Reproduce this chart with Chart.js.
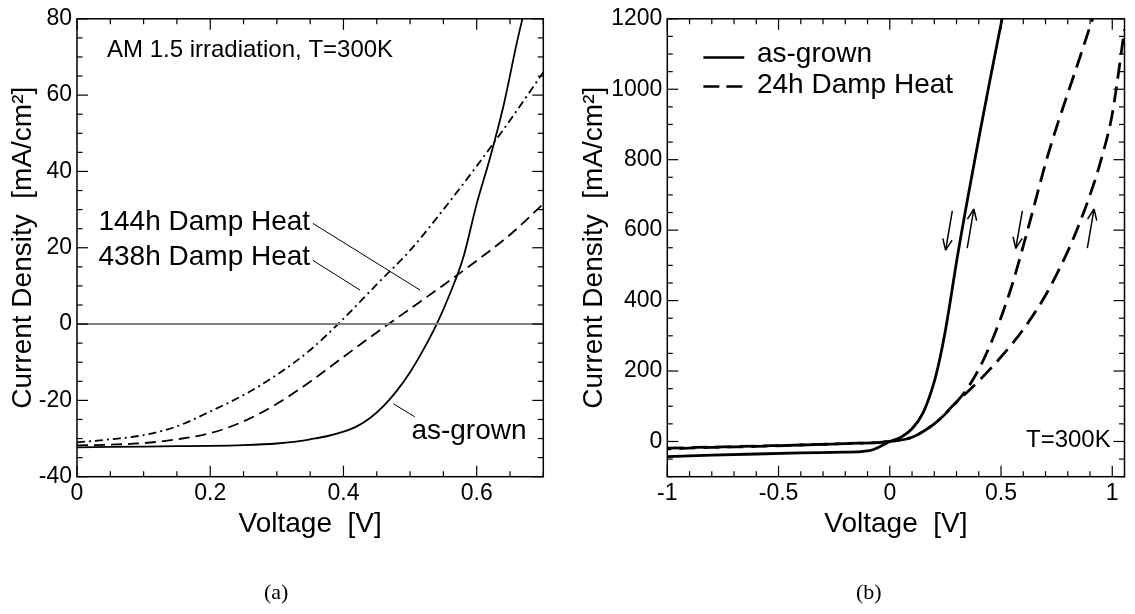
<!DOCTYPE html>
<html lang="en">
<head>
<meta charset="UTF-8">
<title>J-V curves | AM 1.5 and dark</title>
<script src="https://cdn.jsdelivr.net/npm/chart.js@4"></script>
<style>
    body { margin: 0; background: #fff; width: 1135px; height: 614px; position: relative; overflow: hidden; }
    canvas { position: absolute; top: 0; }
    #chartA { left: 0; }
    #chartB { left: 567px; }
    .cap { position: absolute; top: 579px; font-family: "Liberation Serif", "Times New Roman", serif; font-size: 22px; color: #000; }
</style>
</head>
<body>
<canvas id="chartA" width="567" height="614"></canvas>
<canvas id="chartB" width="568" height="614"></canvas>
<div class="cap" style="left:264px">(a)</div>
<div class="cap" style="left:856px">(b)</div>

<script>
    // ---- panel (a): illuminated J-V, AM 1.5, 300 K ----
    const vGrownA = [0, 0.05, 0.1, 0.15, 0.2, 0.25, 0.3, 0.325, 0.35, 0.375, 0.4, 0.42, 0.44, 0.46, 0.48, 0.5, 0.52, 0.54, 0.56, 0.58, 0.6, 0.62, 0.64, 0.66, 0.67];
    const jGrownA = [-32.3, -32.2, -32.1, -32.0, -31.9, -31.7, -31.3, -30.9, -30.2, -29.4, -28.2, -26.8, -24.6, -21.5, -17.5, -12.6, -6.7, 0, 8, 17.5, 31.5, 43.5, 57, 73.5, 81];

    const vDamp = [0, 0.05, 0.1, 0.15, 0.2, 0.25, 0.3, 0.35, 0.4, 0.45, 0.5, 0.55, 0.6, 0.65, 0.7];
    const j144h = [-31.8, -31.6, -31.2, -30.2, -28.6, -25.5, -20.9, -15.1, -8.6, -2.2, 4.0, 10.2, 16.6, 23.4, 31.5];
    const j438h = [-31.0, -30.2, -29.1, -26.8, -22.9, -18.6, -13.3, -6.8, 1.4, 10.4, 19.3, 30.0, 41.4, 53.4, 66.0];

    const ticksXA = [0, 0.2, 0.4, 0.6];
    const ticksYA = [-40, -20, 0, 20, 40, 60, 80];

    // ---- panel (b): dark J-V, both sweep directions ----
    const vGrownB = [-1, -0.8, -0.6, -0.4, -0.2, -0.13, -0.1, -0.07, -0.03, 0, 0.05, 0.1, 0.15, 0.2, 0.225, 0.25, 0.275, 0.3, 0.35, 0.4, 0.45, 0.5, 0.51];
    const jGrownB = [-43, -39, -35.5, -32.5, -30.5, -29, -27, -22, -10, 0, 12, 36, 82, 170, 235, 315, 410, 510, 690, 860, 1025, 1185, 1217];

    const vDhUp = [-1, -0.8, -0.6, -0.4, -0.2, 0, 0.1, 0.2, 0.3, 0.4, 0.5, 0.6, 0.7, 0.8, 0.85, 0.9, 0.95, 1.0, 1.055];
    const jDhUp = [-19, -16, -13, -10, -6, 0, 12, 50, 112, 172, 240, 318, 415, 540, 615, 700, 800, 930, 1170];

    const vDhDown = [-1, -0.8, -0.6, -0.4, -0.2, 0, 0.1, 0.2, 0.3, 0.35, 0.4, 0.45, 0.5, 0.55, 0.6, 0.65, 0.7, 0.75, 0.8, 0.85, 0.9, 0.92];
    const jDhDown = [-21, -17, -14, -10, -6, 0, 12, 50, 112, 152, 205, 272, 352, 445, 555, 672, 790, 893, 988, 1082, 1178, 1216];

    const ticksXB = [-1, -0.5, 0, 0.5, 1];
    const ticksYB = [0, 200, 400, 600, 800, 1000, 1200];

    Chart.defaults.font.family = '"Liberation Sans", Arial, Helvetica, sans-serif';
    Chart.defaults.color = '#000';

    const FONT = '"Liberation Sans", Arial, Helvetica, sans-serif';

    function pts(xs, ys) {
        return xs.map((v, i) => ({ x: v, y: ys[i] }));
    }

    // frame, inward ticks on all sides, text and arrow annotations
    const deco = {
        id: 'deco',
        afterDatasetsDraw(chart, args, o) {
            const { ctx, chartArea: a, scales: { x, y } } = chart;
            const px = v => x.getPixelForValue(v);
            const py = v => y.getPixelForValue(v);
            const seg = (x1, y1, x2, y2) => { ctx.beginPath(); ctx.moveTo(x1, y1); ctx.lineTo(x2, y2); ctx.stroke(); };
            const isMajor = (v, step) => Math.abs(v / step - Math.round(v / step)) < 1e-6;

            ctx.save();
            ctx.strokeStyle = '#000';
            ctx.lineWidth = 1.5;
            ctx.strokeRect(a.left, a.top, a.width, a.height);

            ctx.lineWidth = 1.2;
            let n = Math.floor((x.max - x.min) / o.xMinor + 1e-6);
            for (let i = 0; i <= n; i++) {
                const v = x.min + i * o.xMinor;
                const len = isMajor(v, o.xMajor) ? 11 : 5.5;
                const p = px(v);
                seg(p, a.bottom, p, a.bottom - len);
                seg(p, a.top, p, a.top + len);
            }
            n = Math.floor((y.max - y.min) / o.yMinor + 1e-6);
            for (let i = 0; i <= n; i++) {
                const v = y.min + i * o.yMinor;
                const len = isMajor(v, o.yMajor) ? 11 : 5.5;
                const p = py(v);
                seg(a.left, p, a.left + len, p);
                seg(a.right, p, a.right - len, p);
            }

            // leader lines
            ctx.lineWidth = 1;
            (o.leaders || []).forEach(l => seg(px(l[0]), py(l[1]), px(l[2]), py(l[3])));

            // sweep direction arrows
            ctx.lineWidth = 1.5;
            (o.arrows || []).forEach(l => {
                const x1 = px(l[0]), y1 = py(l[1]), x2 = px(l[2]), y2 = py(l[3]);
                seg(x1, y1, x2, y2);
                const ang = Math.atan2(y2 - y1, x2 - x1);
                [0.4, -0.4].forEach(d => seg(x2, y2, x2 - 12 * Math.cos(ang + d), y2 - 12 * Math.sin(ang + d)));
            });

            // legend samples
            (o.legend || []).forEach(l => {
                ctx.lineWidth = l.width;
                ctx.setLineDash(l.dash);
                seg(px(l.x1), py(l.y), px(l.x2), py(l.y));
                ctx.setLineDash([]);
                ctx.font = `${l.size}px ${FONT}`;
                ctx.fillStyle = '#000';
                ctx.textAlign = 'left';
                ctx.textBaseline = 'middle';
                ctx.fillText(l.text, px(l.tx), py(l.ty));
            });

            // free texts
            (o.texts || []).forEach(t => {
                ctx.font = `${t.size}px ${FONT}`;
                ctx.fillStyle = '#000';
                ctx.textAlign = t.align;
                ctx.textBaseline = 'middle';
                ctx.fillText(t.text, px(t.x), py(t.y));
            });
            ctx.restore();
        }
    };

    function axisX(min, max, ticks, fixedH) {
        return {
            type: 'linear', min: min, max: max,
            grid: { display: false, drawTicks: false, tickLength: 0 }, border: { display: false },
            afterBuildTicks: s => { s.ticks = ticks.map(v => ({ value: v })); },
            afterFit: s => { s.height = fixedH; },
            ticks: { font: { size: 23 }, padding: 3, maxRotation: 0, callback: v => String(v) },
            title: { display: true, text: 'Voltage  [V]', font: { size: 28 }, padding: { top: 0, bottom: 0 } }
        };
    }

    function axisY(min, max, ticks, fixedW, titlePad) {
        return {
            type: 'linear', min: min, max: max,
            grid: { display: false, drawTicks: false, tickLength: 0 }, border: { display: false },
            afterBuildTicks: s => { s.ticks = ticks.map(v => ({ value: v })); },
            afterFit: s => { s.width = fixedW; },
            ticks: { font: { size: 23 }, padding: 5, callback: v => String(v) },
            title: { display: true, text: 'Current Density  [mA/cm²]', font: { size: 28 }, padding: { top: titlePad, bottom: 0 } }
        };
    }

    const lineBase = { pointRadius: 0, fill: false, cubicInterpolationMode: 'monotone', borderColor: '#000' };

    new Chart(document.getElementById('chartA'), {
        type: 'line',
        data: {
            datasets: [
                { ...lineBase, label: 'zero', data: pts([0, 0.7], [0, 0]), borderColor: '#808080', borderWidth: 2 },
                { ...lineBase, label: 'as-grown', data: pts(vGrownA, jGrownA), borderWidth: 1.8 },
                { ...lineBase, label: '144h Damp Heat', data: pts(vDamp, j144h), borderWidth: 1.8, borderDash: [11, 6] },
                { ...lineBase, label: '438h Damp Heat', data: pts(vDamp, j438h), borderWidth: 1.8, borderDash: [8, 4, 2, 4] }
            ]
        },
        options: {
            responsive: false,
            animation: false,
            layout: { padding: { top: 11, right: 23.7, bottom: 72.8, left: 0 } },
            scales: {
                x: axisX(0, 0.7, ticksXA, 64.5),
                y: axisY(-40, 80, ticksYA, 77, 6.2)
            },
            plugins: {
                legend: { display: false },
                tooltip: { enabled: false },
                deco: {
                    xMinor: 0.05, xMajor: 0.2, yMinor: 5, yMajor: 20,
                    leaders: [
                        [0.354, 26.4, 0.515, 8.9],
                        [0.354, 16.7, 0.425, 8.9],
                        [0.475, -20.9, 0.507, -24.3]
                    ],
                    texts: [
                        { text: 'AM 1.5 irradiation, T=300K', x: 0.045, y: 71.7, size: 24, align: 'left' },
                        { text: '144h Damp Heat', x: 0.35, y: 26.7, size: 28, align: 'right' },
                        { text: '438h Damp Heat', x: 0.35, y: 17.6, size: 28, align: 'right' },
                        { text: 'as-grown', x: 0.502, y: -28.2, size: 28, align: 'left' }
                    ]
                }
            }
        },
        plugins: [deco]
    });

    new Chart(document.getElementById('chartB'), {
        type: 'line',
        data: {
            datasets: [
                { ...lineBase, label: 'as-grown', data: pts(vGrownB, jGrownB), borderWidth: 2.8 },
                { ...lineBase, label: '24h Damp Heat (up)', data: pts(vDhUp, jDhUp), borderWidth: 2.8, borderDash: [16, 8] },
                { ...lineBase, label: '24h Damp Heat (down)', data: pts(vDhDown, jDhDown), borderWidth: 2.8, borderDash: [16, 8], borderDashOffset: 12 }
            ]
        },
        options: {
            responsive: false,
            animation: false,
            layout: { padding: { top: 11, right: 10.5, bottom: 72.8, left: 0 } },
            scales: {
                x: axisX(-1, 1.055, ticksXB, 64.5),
                y: axisY(-100, 1200, ticksYB, 100.3, 10.7)
            },
            plugins: {
                legend: { display: false },
                tooltip: { enabled: false },
                deco: {
                    xMinor: 0.1, xMajor: 0.5, yMinor: 50, yMajor: 200,
                    arrows: [
                        [0.281, 655, 0.251, 543],
                        [0.348, 549, 0.378, 660],
                        [0.596, 655, 0.566, 548],
                        [0.888, 549, 0.918, 660]
                    ],
                    legend: [
                        { text: 'as-grown', x1: -0.838, x2: -0.654, y: 1090, tx: -0.597, ty: 1098, width: 2.5, dash: [], size: 28 },
                        { text: '24h Damp Heat', x1: -0.838, x2: -0.654, y: 1008, tx: -0.597, ty: 1011, width: 2.5, dash: [16, 7], size: 28 }
                    ],
                    texts: [
                        { text: 'T=300K', x: 0.993, y: 4, size: 24, align: 'right' }
                    ]
                }
            }
        },
        plugins: [deco]
    });
</script>
</body>
</html>
